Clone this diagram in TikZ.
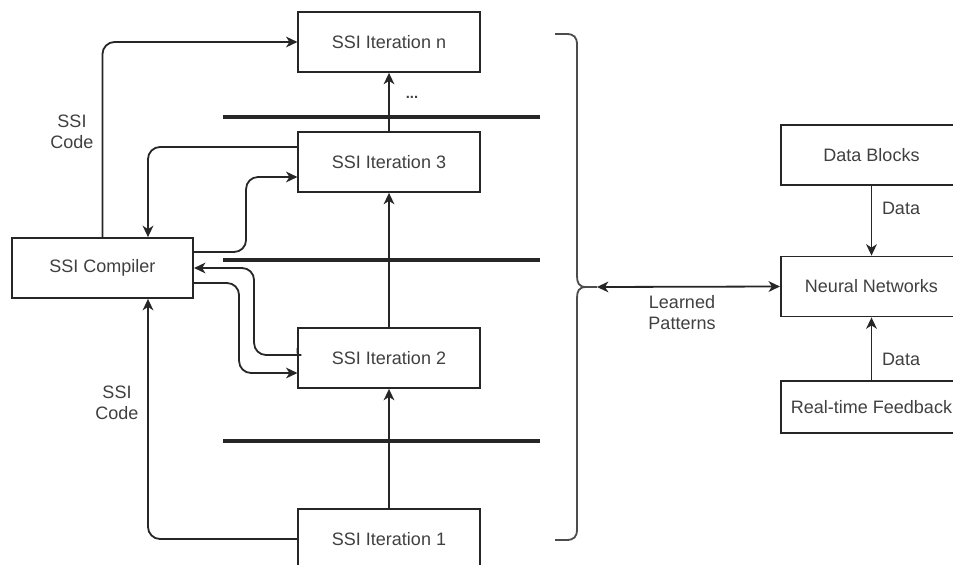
\documentclass[tikz,border=0pt]{standalone}
\usepackage{fontspec}
\setmainfont{Liberation Sans}
\usetikzlibrary{arrows.meta,calc}
\newcommand{\fsz}{\fontsize{13.5}{15.75}\selectfont}
\begin{document}
\begin{tikzpicture}[x=0.75pt,y=-0.75pt,
  box/.style={draw=black!85, line width=1.35pt, minimum width=136pt, minimum height=45pt, inner sep=0pt, font=\fsz, text=black!75},
  conn/.style={draw=black!85, line width=1.35pt, -{Stealth[length=8.5pt,width=8pt,inset=2.5pt]}, rounded corners=9pt},
  dconn/.style={draw=black!85, line width=1.35pt, {Stealth[length=8.5pt,width=8pt,inset=2.5pt]}-{Stealth[length=8.5pt,width=8pt,inset=2.5pt]}},
  lbl/.style={font=\fsz, text=black!75, align=center, inner sep=0pt},
  sepline/.style={line width=2.4pt, draw=black!85},
  bracestyle/.style={line width=1.35pt, draw=black!70}]
\useasboundingbox (0,0) rectangle (953,564);
\clip (0,0) rectangle (953,564);
\fill[white] (0,0) rectangle (953,564);

% separator lines
\draw[sepline] (223,117) -- (540,117);
\draw[sepline] (223,260) -- (540,260);
\draw[sepline] (223,441) -- (540,441);

% nodes
\node[box] (itn) at (389,42) {SSI Iteration n};
\node[box] (it3) at (389,162) {SSI Iteration 3};
\node[box] (it2) at (389,358) {SSI Iteration 2};
\node[box] (it1) at (389,539) {SSI Iteration 1};
\node[box] (comp) at (102.5,268) {SSI Compiler};
\node[box] (db) at (871.5,155) {Data Blocks};
\node[box] (nn) at (871.5,286.5) {Neural Networks};
\node[box, minimum height=39pt] (rtf) at (871.5,407) {Real-time Feedback};

% vertical chain
\draw[conn] (it1.north) -- (it2.south);
\draw[conn] (it2.north) -- (it3.south);
\draw[conn] (it3.north) -- (itn.south);
\node[lbl, font=\bfseries\fontsize{11}{13}\selectfont] (dots) at (412,97) {...};

% compiler connectors
\draw[conn] (comp.north) |- (itn.west);
\node[lbl] (code1) at (72,132) {SSI\\Code};
\draw[conn] ($(it3.west)+(0,-15)$) -| ($(comp.north)+(45.5,0)$);
\draw[conn] ($(comp.east)+(0,-16)$) -- ++(52,0) |- ($(it3.west)+(0,15)$);
\draw[conn] ($(it2.west)+(0,-10)$) .. controls ($(it2.west)+(0,-3)$) .. ($(it2.west)+(-8,-3)$) -| ($(comp.east)+(60,0)$) -- (comp.east);
\draw[conn] ($(comp.east)+(0,15)$) -- ++(45,0) |- ($(it2.west)+(0,15)$);
\draw[conn] (it1.west) -| ($(comp.south)+(45.5,0)$);
\node[lbl] (code2) at (117,403) {SSI\\Code};

% brace
\coordinate (bt) at (597,287);
\draw[bracestyle] (555,34) -- (566,34) .. controls (574,34) and (577,37) .. (577,45)
  -- (577,276) .. controls (577,283) and (579,287) .. (586,287) -- (bt);
\draw[bracestyle] (586,287) .. controls (579,287) and (577,291) .. (577,298)
  -- (577,529) .. controls (577,537) and (574,540) .. (566,540) -- (555,540);
\draw[dconn] (bt) -- (nn.west);
\node[lbl] (lp) at (682,313) {Learned\\Patterns};

% right side
\draw[conn] (db.south) -- (nn.north);
\draw[conn] (rtf.north) -- (nn.south);
\node[lbl] (d1) at (901,208) {Data};
\node[lbl] (d2) at (901,359) {Data};
\end{tikzpicture}
\end{document}
